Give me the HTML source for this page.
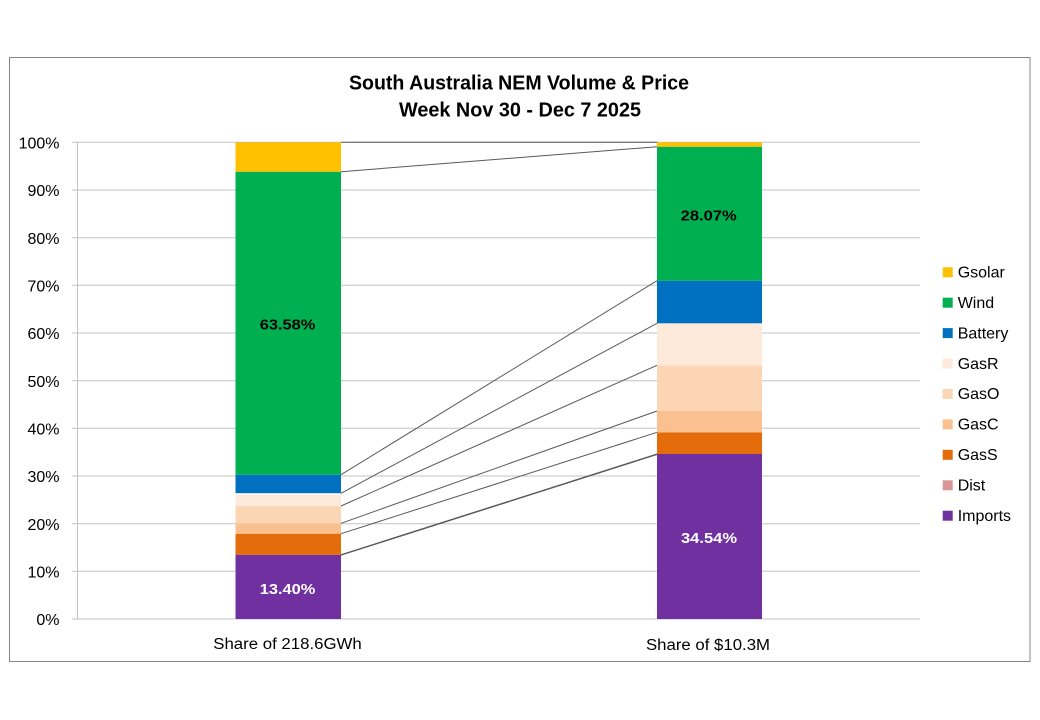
<!DOCTYPE html>
<html>
<head>
<meta charset="utf-8">
<style>
html,body{margin:0;padding:0;background:#fff;}
svg{display:block;}
text{font-family:"Liberation Sans",Arial,sans-serif;}
</style>
</head>
<body>
<svg width="1040" height="720" viewBox="0 0 1040 720" xmlns="http://www.w3.org/2000/svg">
  <rect x="0" y="0" width="1040" height="720" fill="#fff"/>
  <!-- frame -->
  <rect x="9.5" y="57.5" width="1020.5" height="604" fill="#fff" stroke="#868686" stroke-width="1"/>

  <!-- title -->
  <text x="519" y="89.3" font-size="20" font-weight="bold" text-anchor="middle" textLength="340" lengthAdjust="spacingAndGlyphs" fill="#000">South Australia NEM Volume &amp; Price</text>
  <text x="520" y="116.7" font-size="20" font-weight="bold" text-anchor="middle" textLength="242" lengthAdjust="spacingAndGlyphs" fill="#000">Week Nov 30 - Dec 7 2025</text>

  <!-- gridlines -->
  <g stroke="#c3c3c3" stroke-width="1">
    <line x1="72" y1="142.3" x2="920" y2="142.3"/>
    <line x1="72" y1="190" x2="920" y2="190"/>
    <line x1="72" y1="237.7" x2="920" y2="237.7"/>
    <line x1="72" y1="285.3" x2="920" y2="285.3"/>
    <line x1="72" y1="333" x2="920" y2="333"/>
    <line x1="72" y1="380.7" x2="920" y2="380.7"/>
    <line x1="72" y1="428.3" x2="920" y2="428.3"/>
    <line x1="72" y1="476" x2="920" y2="476"/>
    <line x1="72" y1="523.7" x2="920" y2="523.7"/>
    <line x1="72" y1="571.3" x2="920" y2="571.3"/>
    <line x1="72" y1="619" x2="920" y2="619"/>
    <line x1="77.5" y1="142.3" x2="77.5" y2="619"/>
  </g>

  <!-- y labels -->
  <g font-size="16" fill="#000" text-anchor="end">
    <text x="59.5" y="148.5">100%</text>
    <text x="59.5" y="196.2">90%</text>
    <text x="59.5" y="243.9">80%</text>
    <text x="59.5" y="291.5">70%</text>
    <text x="59.5" y="339.2">60%</text>
    <text x="59.5" y="386.9">50%</text>
    <text x="59.5" y="434.5">40%</text>
    <text x="59.5" y="482.2">30%</text>
    <text x="59.5" y="529.9">20%</text>
    <text x="59.5" y="577.5">10%</text>
    <text x="59.5" y="625.2">0%</text>
  </g>

  <!-- bar 1 -->
  <g>
    <rect x="235.5" y="554.7" width="105.5" height="64.3" fill="#7030A0"/>
    <rect x="235.5" y="533.7" width="105.5" height="21" fill="#E46C0A"/>
    <rect x="235.5" y="523.3" width="105.5" height="10.4" fill="#FAC090"/>
    <rect x="235.5" y="506" width="105.5" height="17.3" fill="#FCD5B5"/>
    <rect x="235.5" y="494.3" width="105.5" height="11.7" fill="#FDEADA"/>
    <rect x="235.5" y="474.7" width="105.5" height="18.5" fill="#0070C0"/>
    <rect x="235.5" y="171.7" width="105.5" height="303" fill="#00B050"/>
    <rect x="235.5" y="142.3" width="105.5" height="29.4" fill="#FFC000"/>
  </g>

  <!-- bar 2 -->
  <g>
    <rect x="657" y="454" width="105" height="165" fill="#7030A0"/>
    <rect x="657" y="432.3" width="105" height="21.7" fill="#E46C0A"/>
    <rect x="657" y="411" width="105" height="21.3" fill="#FAC090"/>
    <rect x="657" y="365.3" width="105" height="45.7" fill="#FCD5B5"/>
    <rect x="657" y="323.3" width="105" height="42" fill="#FDEADA"/>
    <rect x="657" y="280.7" width="105" height="42.6" fill="#0070C0"/>
    <rect x="657" y="146.7" width="105" height="134" fill="#00B050"/>
    <rect x="657" y="142.3" width="105" height="4.4" fill="#FFC000"/>
  </g>

  <!-- series lines -->
  <g stroke="#595959" stroke-width="1" fill="none">
    <line x1="341" y1="142.3" x2="657" y2="142.3"/>
    <line x1="341" y1="171.7" x2="657" y2="146.7"/>
    <line x1="341" y1="474.7" x2="657" y2="280.7"/>
    <line x1="341" y1="493.3" x2="657" y2="323.3"/>
    <line x1="341" y1="506" x2="657" y2="365.3"/>
    <line x1="341" y1="523.3" x2="657" y2="411"/>
    <line x1="341" y1="533.7" x2="657" y2="432.3"/>
    <line x1="341" y1="554.7" x2="657" y2="454"/>
    <line x1="341" y1="555.2" x2="657" y2="454.5"/>
  </g>

  <!-- data labels -->
  <g font-size="15" font-weight="bold" text-anchor="middle">
    <text x="287.5" y="329.3" fill="#000" textLength="55.5" lengthAdjust="spacingAndGlyphs">63.58%</text>
    <text x="287.5" y="594" fill="#fff" textLength="55.5" lengthAdjust="spacingAndGlyphs">13.40%</text>
    <text x="708.7" y="220.7" fill="#000" textLength="56" lengthAdjust="spacingAndGlyphs">28.07%</text>
    <text x="709" y="543" fill="#fff" textLength="56" lengthAdjust="spacingAndGlyphs">34.54%</text>
  </g>

  <!-- x labels -->
  <g font-size="15.5" fill="#000" text-anchor="middle">
    <text x="287.5" y="649" textLength="148.5" lengthAdjust="spacingAndGlyphs">Share of 218.6GWh</text>
    <text x="708" y="650" textLength="124" lengthAdjust="spacingAndGlyphs">Share of $10.3M</text>
  </g>

  <!-- legend -->
  <g font-size="16" fill="#000">
    <rect x="942.7" y="267.3" width="10" height="10" fill="#FFC000"/>
    <text x="957.7" y="277.5">Gsolar</text>
    <rect x="942.7" y="297.7" width="10" height="10" fill="#00B050"/>
    <text x="957.7" y="307.9">Wind</text>
    <rect x="942.7" y="328.1" width="10" height="10" fill="#0070C0"/>
    <text x="957.7" y="338.3">Battery</text>
    <rect x="942.7" y="358.6" width="10" height="10" fill="#FDEADA"/>
    <text x="957.7" y="368.8">GasR</text>
    <rect x="942.7" y="389" width="10" height="10" fill="#FCD5B5"/>
    <text x="957.7" y="399.2">GasO</text>
    <rect x="942.7" y="419.4" width="10" height="10" fill="#FAC090"/>
    <text x="957.7" y="429.6">GasC</text>
    <rect x="942.7" y="449.8" width="10" height="10" fill="#E46C0A"/>
    <text x="957.7" y="460">GasS</text>
    <rect x="942.7" y="480.3" width="10" height="10" fill="#D99594"/>
    <text x="957.7" y="490.5">Dist</text>
    <rect x="942.7" y="510.7" width="10" height="10" fill="#7030A0"/>
    <text x="957.7" y="520.9">Imports</text>
  </g>
</svg>
</body>
</html>
